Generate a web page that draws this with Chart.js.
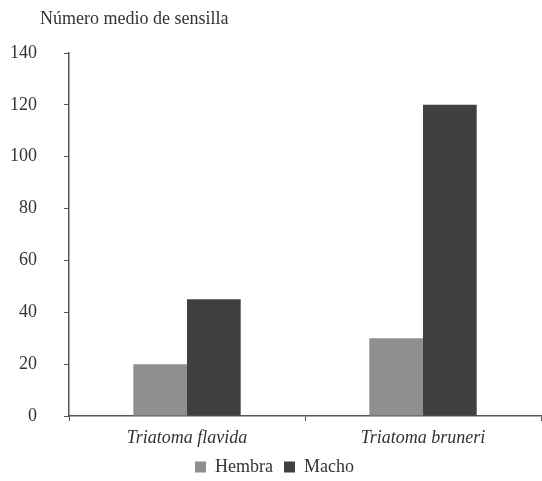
<!DOCTYPE html>
<html>
<head>
<meta charset="utf-8">
<script src="https://cdn.jsdelivr.net/npm/chart.js@4/dist/chart.umd.min.js"></script>
<style>
  html, body { margin: 0; padding: 0; background: #fff; }
  #wrap { width: 542px; height: 481px; }
</style>
</head>
<body>
<div id="wrap"><canvas id="myChart"></canvas></div>
<script>
const species = ['Triatoma flavida', 'Triatoma bruneri'];
const hembra = [20, 30];
const macho = [45, 120];
const yTitle = 'Número medio de sensilla';

const serif = '"Liberation Serif", "DejaVu Serif", serif';

// title drawn above the y axis, left of the plot
const topTitle = {
  id: 'topTitle',
  afterDraw(chart) {
    const ctx = chart.ctx;
    ctx.save();
    ctx.font = '18px ' + serif;
    ctx.fillStyle = '#333';
    ctx.textBaseline = 'middle';
    ctx.fillText(yTitle, chart.chartArea.left - 29, 19);
    ctx.restore();
  }
};

const data = {
  labels: species,
  datasets: [
    {
      label: 'Hembra',
      backgroundColor: '#8e8f91',
      data: hembra
    },
    {
      label: 'Macho',
      backgroundColor: '#404040',
      data: macho
    }
  ]
};

const config = {
  type: 'bar',
  data: data,
  plugins: [topTitle],
  options: {
    responsive: true,
    maintainAspectRatio: false,
    animation: false,
    categoryPercentage: 0.455,
    barPercentage: 1,
    layout: { padding: { top: 53, left: 8, right: 1, bottom: 0 } },
    plugins: {
      legend: {
        position: 'bottom',
        maxHeight: 34,
        labels: {
          boxWidth: 11,
          boxHeight: 11,
          padding: 11,
          color: '#333',
          font: { family: serif, size: 18 }
        }
      },
      tooltip: { enabled: false }
    },
    scales: {
      x: {
        afterFit(scale) { scale.height = 31; },
        grid: {
          display: true,
          drawOnChartArea: false,
          offset: true,
          tickLength: 5,
          color: '#555'
        },
        border: { color: '#555', width: 1.5 },
        ticks: {
          color: '#333',
          padding: 8,
          font: { family: serif, size: 18, style: 'italic', lineHeight: 1 }
        }
      },
      y: {
        min: 0,
        max: 140,
        afterFit(scale) { scale.width = 61; },
        grid: {
          display: true,
          drawOnChartArea: false,
          tickLength: 5,
          color: '#555'
        },
        border: { color: '#555', width: 1.5 },
        ticks: {
          stepSize: 20,
          color: '#333',
          padding: 27,
          font: { family: serif, size: 18 }
        }
      }
    }
  }
};

const myChart = new Chart(document.getElementById('myChart'), config);
</script>
</body>
</html>
